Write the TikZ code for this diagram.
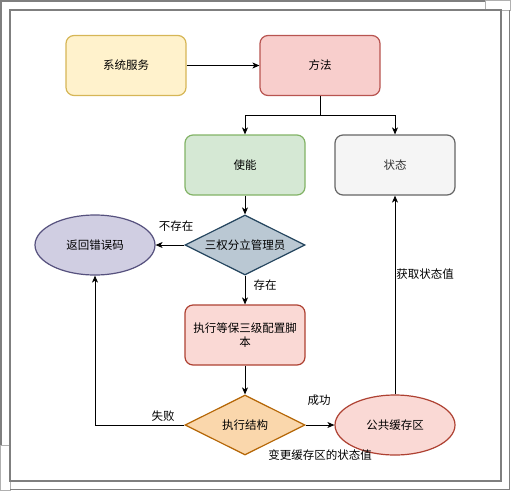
\documentclass[tikz,border=0pt]{standalone}
\usepackage{fontspec}
\newfontfamily\cjk{Noto Sans CJK SC}
\usetikzlibrary{shapes.geometric,arrows.meta}
\definecolor{yfill}{HTML}{FFF2CC}\definecolor{ydraw}{HTML}{D6B656}
\definecolor{rfill}{HTML}{F8CECC}\definecolor{rdraw}{HTML}{B85450}
\definecolor{gfill}{HTML}{D5E8D4}\definecolor{gdraw}{HTML}{82B366}
\definecolor{sfill}{HTML}{F5F5F5}\definecolor{sdraw}{HTML}{666666}
\definecolor{stext}{HTML}{333333}
\definecolor{bfill}{HTML}{BAC8D3}\definecolor{bdraw}{HTML}{23445D}
\definecolor{pfill}{HTML}{D0CEE2}\definecolor{pdraw}{HTML}{56517E}
\definecolor{r2fill}{HTML}{FAD9D5}\definecolor{r2draw}{HTML}{AE4132}
\definecolor{ofill}{HTML}{FAD7AC}\definecolor{odraw}{HTML}{B46504}
\definecolor{framec}{HTML}{7F7F7F}
\definecolor{framel}{HTML}{B0B0B0}
\begin{document}
\begin{tikzpicture}[x=1pt,y=-1pt,
  every node/.style={font=\cjk\fontsize{11.5}{14}\selectfont},
  rbox/.style={rounded corners=8pt,minimum width=120pt,minimum height=60pt,line width=1.2pt,align=center,text width=112pt,inner sep=2pt},
  dia/.style={diamond,aspect=2,minimum width=120pt,minimum height=60pt,inner sep=0pt,line width=1.2pt},
  ell/.style={ellipse,minimum width=120pt,minimum height=60pt,inner sep=0pt,line width=1.2pt},
  conn/.style={draw=black,line width=0.9pt,-{Stealth[length=7pt,width=6pt,inset=2pt]}},
  lbl/.style={fill=white,inner sep=1pt}]
\useasboundingbox (0,0) rectangle (511,491);
% frame
\draw[framec,line width=1.5pt] (0.75,445) -- (0.75,0.75) -- (485,0.75);
\draw[framel,line width=1pt] (485,0.5) rectangle (510.5,10);
\draw[framel,line width=1pt] (0.5,445) rectangle (10,490.5);
\draw[framec,line width=1.5pt] (509.5,10) -- (509.5,489.5) -- (10,489.5);
\draw[framec,line width=2pt] (10,10) rectangle (501,481);
% nodes
\node[rbox,fill=yfill,draw=ydraw] (svc) at (126,65.5) {系统服务};
\node[rbox,fill=rfill,draw=rdraw] (meth) at (320,65.5) {方法};
\node[rbox,fill=gfill,draw=gdraw] (en) at (245,165) {使能};
\node[rbox,fill=sfill,draw=sdraw,text=stext] (st) at (395,165) {状态};
\node[dia,fill=bfill,draw=bdraw] (adm) at (245,245) {三权分立管理员};
\node[ell,fill=pfill,draw=pdraw] (err) at (95,245) {返回错误码};
\node[rbox,fill=r2fill,draw=r2draw] (run) at (245,335) {执行等保三级配置脚\\本};
\node[dia,fill=ofill,draw=odraw] (res) at (245,425) {执行结构};
\node[ell,fill=r2fill,draw=r2draw] (cache) at (395,425) {公共缓存区};
\coordinate (split) at (320,115);
% connectors
\draw[conn] (svc) -- (meth);
\draw[conn] (meth.south) -- (split) -| (en.north);
\draw[conn] (split) -| (st.north);
\draw[conn] (en) -- (adm);
\draw[conn] (adm) -- (err);
\draw[conn] (adm) -- (run);
\draw[conn] (run) -- (res);
\draw[conn] (res) -- (cache);
\draw[conn] (cache) -- (st);
\draw[conn] (res.west) -| (err.south);
% labels
\node at (176,226) {不存在};
\node at (265,285) {存在};
\node at (319,400) {成功};
\node at (320,455) {变更缓存区的状态值};
\node at (425,274) {获取状态值};
\node at (163,416) {失败};
\end{tikzpicture}
\end{document}
